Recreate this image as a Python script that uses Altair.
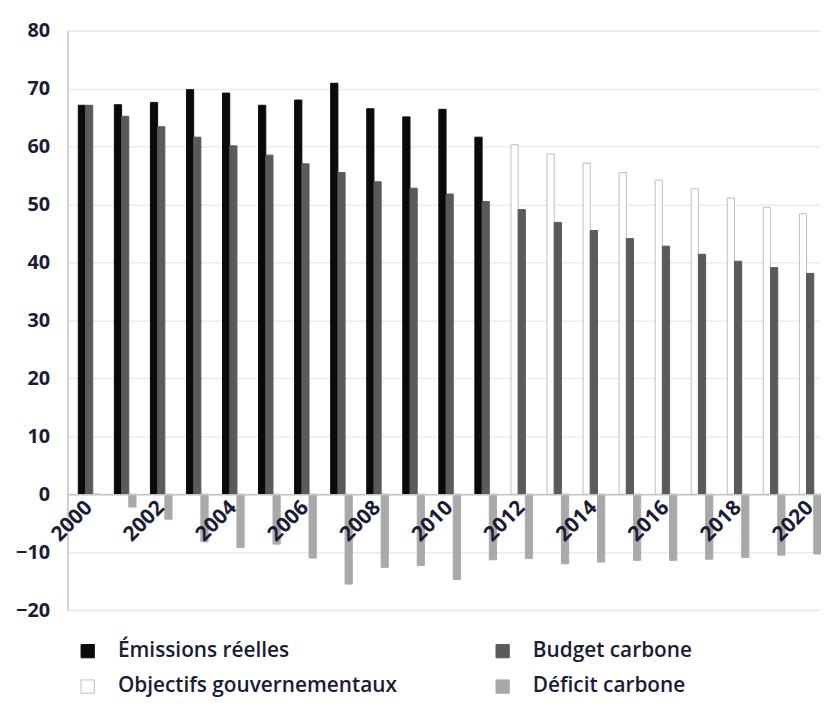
import altair as alt
import pandas as pd

years = list(range(2000, 2021))
em_years = list(range(2000, 2012))
obj_years = list(range(2012, 2021))
emissions = [67.1, 67.2, 67.6, 69.8, 69.2, 67.1, 68.0, 70.9, 66.5, 65.1, 66.4, 61.6]
objectifs = [60.3, 58.7, 57.1, 55.5, 54.2, 52.7, 51.1, 49.5, 48.4]
budget = [67.1, 65.2, 63.4, 61.6, 60.1, 58.5, 57.0, 55.5, 53.9, 52.8, 51.8,
          50.5, 49.1, 46.9, 45.5, 44.1, 42.8, 41.4, 40.2, 39.1, 38.1]
deficit = [0.0, -2.2, -4.3, -8.2, -9.2, -8.6, -11.0, -15.5, -12.6, -12.3, -14.7,
           -11.3, -11.1, -12.0, -11.7, -11.4, -11.4, -11.2, -10.9, -10.5, -10.3]
tick_years = list(range(2000, 2021, 2))
y_ticks = list(range(-20, 90, 10))

S_EM = "Émissions réelles"
S_BU = "Budget carbone"
S_OB = "Objectifs gouvernementaux"
S_DE = "Déficit carbone"
series_order = [S_EM, S_BU, S_OB, S_DE]
fills = ["#0a0a0a", "#5a5a5a", "#ffffff", "#a9a9a9"]
strokes = ["#0a0a0a", "#5a5a5a", "#bdbdbd", "#a9a9a9"]
slot_of = {S_EM: "a", S_OB: "a", S_BU: "b", S_DE: "c"}

rows = []
for y, v in zip(em_years, emissions):
    rows.append({"year": y, "series": S_EM, "value": v})
for y, v in zip(obj_years, objectifs):
    rows.append({"year": y, "series": S_OB, "value": v})
for y, v in zip(years, budget):
    rows.append({"year": y, "series": S_BU, "value": v})
for y, v in zip(years, deficit):
    rows.append({"year": y, "series": S_DE, "value": v})
df = pd.DataFrame(rows)
df["slot"] = df["series"].map(slot_of)

W, H = 761, 585.4
FONT = "Open Sans"
TXT = "#1b1b36"

legend_kw = dict(
    title=None, orient="none", legendX=10, legendY=616, direction="horizontal",
    columns=2, columnPadding=96, rowPadding=14, padding=0,
    symbolType="square", symbolSize=180, symbolStrokeWidth=1,
    labelFont=FONT, labelFontSize=21, labelFontWeight=600, labelColor=TXT,
    labelOffset=20, labelLimit=400,
)

chart = alt.Chart(df).mark_bar(strokeWidth=1).encode(
    x=alt.X("year:O",
            scale=alt.Scale(paddingInner=0.4, paddingOuter=0.151, align=1),
            axis=alt.Axis(title=None, values=tick_years, labelAngle=315,
                          labelAlign="right", labelBaseline="middle",
                          labelPadding=10, ticks=False, grid=False,
                          domainColor="#c3c3c3", domainWidth=1.5,
                          labelFont=FONT, labelFontSize=21, labelFontWeight="bold",
                          labelColor=TXT, labelOverlap=False, zindex=1,
                          offset=-0.2 * H)),
    xOffset=alt.XOffset("slot:N", scale=alt.Scale(domain=["a", "b", "c"],
                                                    paddingInner=0, paddingOuter=0)),
    y=alt.Y("value:Q",
            scale=alt.Scale(domain=[-20, 80], nice=False),
            axis=alt.Axis(title=None, values=y_ticks, ticks=False,
                          domainColor="#c8c8c8", domainWidth=1.5,
                          gridColor="#ebebeb", gridWidth=1.5,
                          labelFont=FONT, labelFontSize=20, labelFontWeight="bold",
                          labelColor=TXT, labelPadding=18)),
    fill=alt.Fill("series:N", scale=alt.Scale(domain=series_order, range=fills),
                  legend=alt.Legend(**legend_kw)),
    stroke=alt.Stroke("series:N", scale=alt.Scale(domain=series_order, range=strokes),
                      legend=alt.Legend(**legend_kw)),
).properties(
    width=W, height=H,
    autosize=alt.AutoSizeParams(type="none"),
    padding={"left": 60, "top": 19.3, "right": 0, "bottom": 93},
).configure_view(stroke=None).configure(background="white")

chart.save("out.html", embed_options={"renderer": "svg", "actions": False})
